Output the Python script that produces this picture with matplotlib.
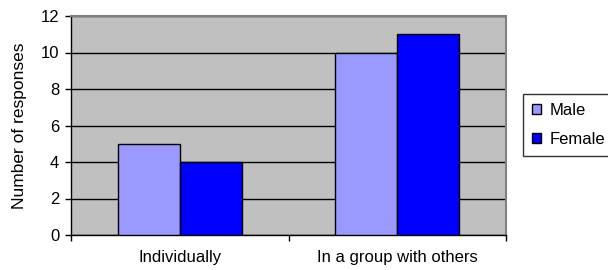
import numpy as np
import matplotlib.pyplot as plt

categories = ['Individually', 'In a group with others']
series_names = ['Male', 'Female']
male = [5, 10]
female = [4, 11]
y_ticks = [0, 2, 4, 6, 8, 10, 12]

plt.rcParams['font.family'] = ['Liberation Sans', 'DejaVu Sans']

fig = plt.figure(figsize=(6.08, 2.70), dpi=100)
ax = fig.add_axes([71/608, 35/270, 435/608, 219/270])

x = np.arange(len(categories))
w = 0.285
ax.bar(x - w/2, male, w, color='#9999ff', edgecolor='black', linewidth=1.0, label=series_names[0], zorder=3)
ax.bar(x + w/2, female, w, color='#0000ff', edgecolor='black', linewidth=1.0, label=series_names[1], zorder=3)

ax.set_facecolor('#c0c0c0')
ax.set_xlim(-0.5, 1.5)
ax.set_ylim(0, 12)
ax.set_yticks(y_ticks)
ax.yaxis.grid(True, color='black', linewidth=1.0, zorder=1)
ax.set_axisbelow(True)

# category boundaries get the tick marks, names sit in between
ax.set_xticks([-0.5, 0.5, 1.5])
ax.set_xticklabels([])
ax.set_xticks(x, minor=True)
ax.set_xticklabels(categories, minor=True, fontsize=12)
ax.tick_params(axis='x', which='minor', length=0, pad=11)
ax.tick_params(axis='x', which='major', length=4, width=1.0, direction='out')
ax.tick_params(axis='y', length=4.5, width=1.0, direction='out', labelsize=12, pad=4)

for s in ['top', 'right']:
    ax.spines[s].set_color('#808080')
    ax.spines[s].set_linewidth(1.5)
for s in ['left', 'bottom']:
    ax.spines[s].set_color('black')
    ax.spines[s].set_linewidth(1.0)

ax.set_ylabel('Number of responses', fontsize=12.5, labelpad=10)

leg = fig.legend(loc='upper left', bbox_to_anchor=(523/608, 1 - 94/270), frameon=True,
                 fancybox=False, edgecolor='black', fontsize=12, handlelength=0.55,
                 handleheight=0.55, handletextpad=0.5, borderpad=0.55, labelspacing=0.8,
                 borderaxespad=0)
leg.get_frame().set_linewidth(1.0)

fig.savefig('out.png', dpi=100)
